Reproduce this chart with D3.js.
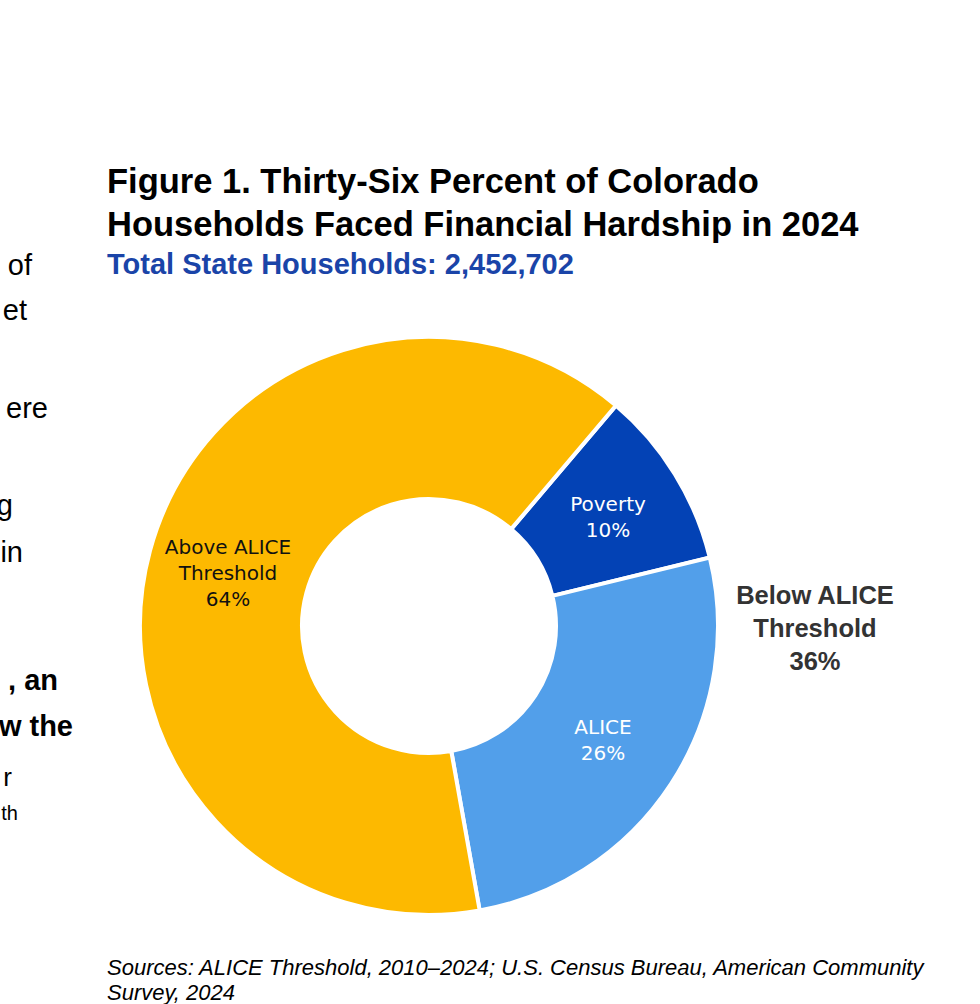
<!DOCTYPE html>
<html><head><meta charset="utf-8">
<script src="https://cdn.jsdelivr.net/npm/d3@7"></script>
<style>body{margin:0;background:#fff}</style></head>
<body><svg id="c" width="980" height="1004"></svg>
<script>
const categories = ["Poverty", "ALICE", "Above ALICE Threshold"];
const values = [10, 26, 64];
const labelLines = [["Poverty","10%"],["ALICE","26%"],["Above ALICE","Threshold","64%"]];
const colors = ["#0342B5", "#529FEA", "#FDB900"];
const labelColors = ["#fff","#fff","#111"];

const svg = d3.select("#c");
const cx = 429, cy = 626, rO = 289, rI = 127;
const start = 40.3 * Math.PI / 180;
const pie = d3.pie().sort(null).value(d => d).startAngle(start).endAngle(start + 2*Math.PI);
const arcs = pie(values);
const arc = d3.arc().innerRadius(rI).outerRadius(rO);
const g = svg.append("g").attr("transform", `translate(${cx},${cy})`);
g.selectAll("path").data(arcs).join("path").attr("d", arc)
  .attr("fill", (d,i) => colors[i]).attr("stroke", "#fff").attr("stroke-width", 4);

const labelPos = [[179,-115],[174,108],[-201,-72]];
arcs.forEach((a,i) => {
  const t = g.append("text").attr("text-anchor","middle")
    .attr("font-family","DejaVu Sans").attr("font-size",20).attr("fill",labelColors[i]);
  labelLines[i].forEach((l,j) => t.append("tspan").attr("x",labelPos[i][0]).attr("y",labelPos[i][1] + j*26).text(l));
});

const A = "Liberation Sans, Arial, sans-serif";
const bl = svg.append("text").attr("text-anchor","middle").attr("font-family",A).attr("font-weight","bold")
  .attr("font-size",25.5).attr("fill","#333");
["Below ALICE","Threshold","36%"].forEach((l,j)=>bl.append("tspan").attr("x",815).attr("y",604+j*33).text(l));

svg.append("text").attr("x",107).attr("y",193).attr("font-family",A).attr("font-weight","bold").attr("font-size",34.5).attr("fill","#000")
  .text("Figure 1. Thirty-Six Percent of Colorado");
svg.append("text").attr("x",107).attr("y",236).attr("font-family",A).attr("font-weight","bold").attr("font-size",34.5).attr("fill","#000")
  .text("Households Faced Financial Hardship in 2024");
svg.append("text").attr("x",107).attr("y",274).attr("font-family",A).attr("font-weight","bold").attr("font-size",29).attr("fill","#1A44A8")
  .text("Total State Households: 2,452,702");
svg.append("text").attr("x",107).attr("y",975).attr("font-family",A).attr("font-style","italic").attr("font-size",22).attr("fill","#000")
  .text("Sources: ALICE Threshold, 2010\u20132024; U.S. Census Bureau, American Community");
svg.append("text").attr("x",107).attr("y",1000).attr("font-family",A).attr("font-style","italic").attr("font-size",22).attr("fill","#000")
  .text("Survey, 2024");

const frags = [["of",32,275,29,"normal"],["et",27,320,29,"normal"],["ere",48,418,29,"normal"],["g",13,515,29,"normal"],
  ["in",23,562,29,"normal"],[", an",58,690,29,"bold"],["w the",73,736,29,"bold"],["r",12,786,26,"normal"],["th",18,820,20,"normal"]];
frags.forEach(f => svg.append("text").attr("x",f[1]).attr("y",f[2]).attr("text-anchor","end").attr("font-family",A)
  .attr("font-size",f[3]).attr("font-weight",f[4]).attr("fill","#000").text(f[0]));
</script></body></html>
